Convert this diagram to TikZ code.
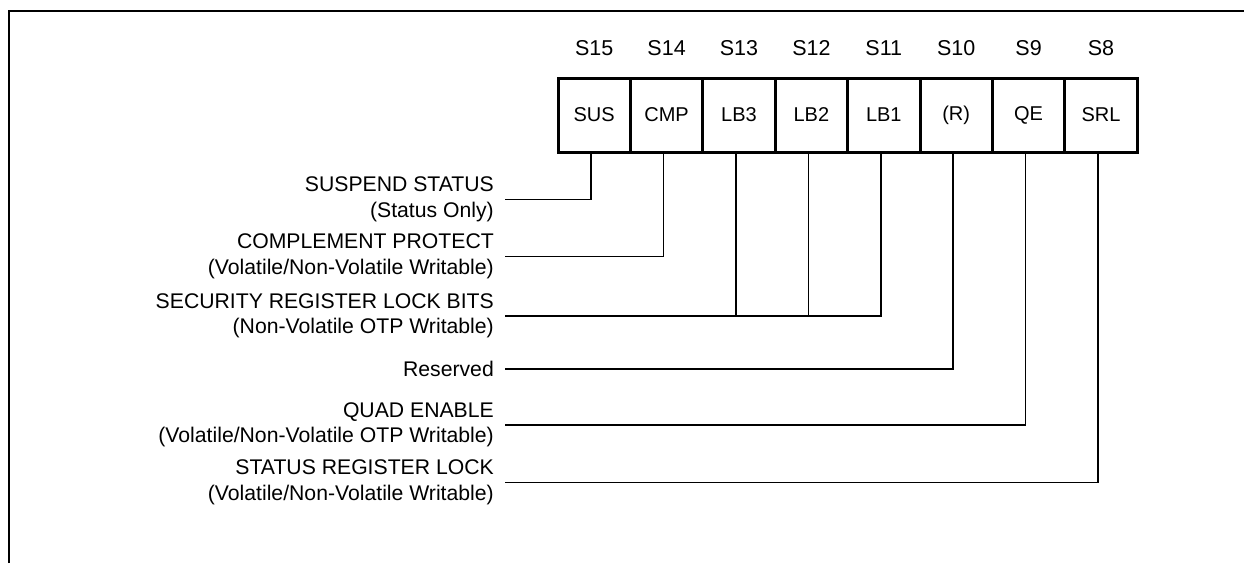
\documentclass[tikz,border=0pt]{standalone}
\usepackage{fontspec}
\setmainfont{Liberation Sans}
\begin{document}
\begin{tikzpicture}[x=1pt,y=-1pt,
  cell/.style={draw,line width=3pt,minimum width=72.4pt,minimum height=74pt,inner sep=0pt,
    font=\fontsize{20}{22}\selectfont},
  bitlab/.style={font=\fontsize{21.5}{24}\selectfont,inner sep=0pt},
  desc/.style={anchor=east,align=right,inner sep=0pt,font=\fontsize{21.2}{25.5}\selectfont},
  conn/.style={line width=1.6pt},
  frame/.style={line width=2pt}]
\useasboundingbox (0,0) rectangle (1244,563);
% frame (cropped)
\coordinate (fa) at (8.5,563);
\coordinate (fb) at (8.5,11);
\coordinate (fc) at (1244,11);
\draw[frame] (fa) -- (fb) -- (fc);
% cells
\foreach \n/\t/\s [count=\i from 0] in {15/SUS/S15,14/CMP/S14,13/LB3/S13,12/LB2/S12,11/LB1/S11,10/(R)/S10,9/QE/S9,8/SRL/S8}{
  \node[cell] (c\n) at (594.2+72.4*\i,115) {\t};
  \node[bitlab] (b\n) at (594.2+72.4*\i,48) {\s};
}
% descriptions
\node[desc] (d15) at (494,199.5) {SUSPEND STATUS\\(Status Only)};
\node[desc] (d14) at (494,256.5) {COMPLEMENT PROTECT\\(Volatile/Non-Volatile Writable)};
\node[desc] (d13) at (494,316) {SECURITY REGISTER LOCK BITS\\(Non-Volatile OTP Writable)};
\node[desc] (d10) at (494,369) {Reserved};
\node[desc] (d9) at (494,425) {QUAD ENABLE\\(Volatile/Non-Volatile OTP Writable)};
\node[desc] (d8) at (494,482.5) {STATUS REGISTER LOCK\\(Volatile/Non-Volatile Writable)};
% connectors
\draw[conn] ([xshift=-3pt]c15.south) |- ([xshift=11pt]d15.east);
\draw[conn] ([xshift=-3pt]c14.south) |- ([xshift=11pt]d14.east);
\draw[conn] ([xshift=-3pt]c11.south) |- ([xshift=11pt]d13.east);
\draw[conn] ([xshift=-3pt]c13.south) -- ([xshift=-3pt]c13.south |- d13.east);
\draw[conn] ([xshift=-3pt]c12.south) -- ([xshift=-3pt]c12.south |- d13.east);
\draw[conn] ([xshift=-3pt]c10.south) |- ([xshift=11pt]d10.east);
\draw[conn] ([xshift=-3pt]c9.south) |- ([xshift=11pt]d9.east);
\draw[conn] ([xshift=-3pt]c8.south) |- ([xshift=11pt]d8.east);
\end{tikzpicture}
\end{document}
